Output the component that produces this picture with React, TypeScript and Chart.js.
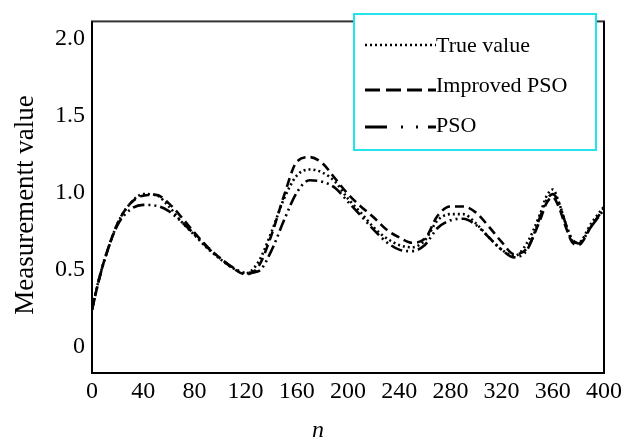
import React, { useEffect, useRef } from "react";
import { Chart, registerables } from "chart.js";

Chart.register(...registerables);

const nValues = [0, 5, 10, 20, 30, 40, 50, 60, 70, 80, 90, 100, 110, 120, 130, 140, 150, 160, 170, 180, 190, 200, 210, 220, 230, 240, 250, 260, 270, 280, 290, 300, 310, 320, 330, 340, 350, 355, 360, 365, 370, 375, 380, 390, 400];

const trueValue = [0.24, 0.425, 0.57, 0.8, 0.93, 0.99, 0.985, 0.91, 0.81, 0.725, 0.64, 0.57, 0.51, 0.475, 0.55, 0.74, 0.96, 1.11, 1.15, 1.13, 1.07, 0.96, 0.87, 0.775, 0.705, 0.66, 0.645, 0.69, 0.82, 0.86, 0.86, 0.8, 0.71, 0.63, 0.59, 0.675, 0.86, 0.975, 1.02, 0.93, 0.8, 0.69, 0.675, 0.8, 0.91];

const improvedPSO = [0.24, 0.42, 0.57, 0.8, 0.93, 0.98, 0.985, 0.93, 0.84, 0.74, 0.65, 0.575, 0.51, 0.47, 0.52, 0.72, 0.98, 1.2, 1.23, 1.19, 1.09, 0.99, 0.91, 0.84, 0.76, 0.71, 0.675, 0.7, 0.85, 0.91, 0.91, 0.87, 0.78, 0.68, 0.6, 0.64, 0.82, 0.93, 0.97, 0.9, 0.78, 0.68, 0.66, 0.78, 0.9];

const psoValues = [0.24, 0.42, 0.57, 0.79, 0.89, 0.92, 0.915, 0.88, 0.81, 0.73, 0.645, 0.575, 0.515, 0.48, 0.49, 0.62, 0.82, 1.0, 1.08, 1.07, 1.03, 0.94, 0.85, 0.76, 0.68, 0.63, 0.62, 0.66, 0.77, 0.82, 0.83, 0.79, 0.71, 0.63, 0.58, 0.63, 0.84, 0.95, 0.99, 0.93, 0.8, 0.7, 0.67, 0.78, 0.89];

const seriesLabels = ["True value", "Improved PSO", "PSO"];
const xTickValues = [0, 40, 80, 120, 160, 200, 240, 280, 320, 360, 400];
const xTickLabels = ["0", "40", "80", "120", "160", "200", "240", "280", "320", "360", "400"];
const yTickValues = [0, 0.5, 1.0, 1.5, 2.0];
const yTickLabels = ["0", "0.5", "1.0", "1.5", "2.0"];
const xTitle = "n";
const yTitle = "Measurementt value";

const SERIF = "'Liberation Serif', 'Times New Roman', serif";

const chartDashes = [[2, 3], [9, 5], [12, 4, 2, 4, 2, 4]];
const legendDashes = [[2, 3], [15, 6], [22, 14, 2, 13, 2, 10]];

export default function App() {
  const canvasRef = useRef<HTMLCanvasElement | null>(null);

  useEffect(() => {
    const canvas = canvasRef.current;
    if (!canvas) return;

    const toPoints = (vals: number[]) => nValues.map((n, i) => ({ x: n, y: vals[i] }));
    const seriesData = [trueValue, improvedPSO, psoValues];

    const framePlugin = {
      id: "frameAndTexts",
      afterDraw(chart: any) {
        const ctx = chart.ctx as CanvasRenderingContext2D;
        const a = chart.chartArea;
        ctx.save();
        ctx.strokeStyle = "#333";
        ctx.lineWidth = 2;
        ctx.setLineDash([]);
        ctx.strokeRect(a.left, a.top, a.right - a.left, a.bottom - a.top);
        ctx.strokeStyle = "#000";
        ctx.beginPath();
        ctx.moveTo(a.left, a.top);
        ctx.lineTo(a.left, a.bottom);
        ctx.lineTo(a.right, a.bottom);
        ctx.lineTo(a.right, a.top);
        ctx.stroke();

        const lx = 354, ly = 14, lw = 242, lh = 136;
        ctx.fillStyle = "#fff";
        ctx.fillRect(lx, ly, lw, lh);
        ctx.strokeStyle = "#22e4ea";
        ctx.lineWidth = 2;
        ctx.strokeRect(lx, ly, lw, lh);
        const rowsLine = [45, 90, 127];
        const rowsText = [46, 86, 126];
        ctx.font = `22px ${SERIF}`;
        ctx.textBaseline = "middle";
        ctx.textAlign = "left";
        chart.data.datasets.forEach((ds: any, i: number) => {
          ctx.strokeStyle = "#000";
          ctx.lineWidth = i === 0 ? 2.6 : 3;
          ctx.setLineDash(legendDashes[i]);
          ctx.beginPath();
          ctx.moveTo(365, rowsLine[i]);
          ctx.lineTo(436, rowsLine[i]);
          ctx.stroke();
          ctx.setLineDash([]);
          ctx.fillStyle = "#000";
          ctx.fillText(ds.label, 436, rowsText[i]);
        });

        ctx.fillStyle = "#000";
        ctx.save();
        ctx.translate(26, 205);
        ctx.rotate(-Math.PI / 2);
        ctx.font = `27px ${SERIF}`;
        ctx.textAlign = "center";
        ctx.textBaseline = "middle";
        ctx.fillText(yTitle, 0, 0);
        ctx.restore();
        ctx.font = `italic 24px ${SERIF}`;
        ctx.textAlign = "center";
        ctx.textBaseline = "middle";
        ctx.fillText(xTitle, 318, 431);
        ctx.restore();
      },
    };

    const chart = new Chart(canvas, {
      type: "line",
      data: {
        datasets: seriesLabels.map((label, i) => ({
          label,
          data: toPoints(seriesData[i]),
          borderColor: "#000",
          backgroundColor: "#000",
          borderWidth: 2.6,
          borderDash: chartDashes[i],
          pointRadius: 0,
          fill: false,
          cubicInterpolationMode: "monotone" as const,
        })),
      },
      options: {
        responsive: false,
        animation: false,
        devicePixelRatio: 1,
        layout: { padding: { left: 0, right: 22, top: 8, bottom: 0 } },
        plugins: {
          legend: { display: false },
          tooltip: { enabled: false },
        },
        scales: {
          x: {
            type: "linear",
            min: 0,
            max: 400,
            grid: { display: false, drawTicks: false },
            border: { display: false },
            afterBuildTicks: (scale: any) => {
              scale.ticks = xTickValues.map((v) => ({ value: v }));
            },
            afterFit: (scale: any) => {
              scale.height = 70;
            },
            ticks: {
              autoSkip: false,
              maxRotation: 0,
              padding: 4,
              color: "#000",
              font: { family: SERIF, size: 24 },
              callback: (value: any) => {
                const idx = xTickValues.indexOf(Number(value));
                return idx >= 0 ? xTickLabels[idx] : "";
              },
            },
          },
          y: {
            type: "linear",
            min: -0.17,
            max: 2.11,
            grid: { display: false, drawTicks: false },
            border: { display: false },
            afterBuildTicks: (scale: any) => {
              scale.ticks = yTickValues.map((v) => ({ value: v }));
            },
            afterFit: (scale: any) => {
              scale.width = 92;
            },
            ticks: {
              autoSkip: false,
              padding: 7,
              color: "#000",
              font: { family: SERIF, size: 24 },
              callback: (value: any) => {
                const idx = yTickValues.indexOf(Number(value));
                return idx >= 0 ? yTickLabels[idx] : "";
              },
            },
          },
        },
      },
      plugins: [framePlugin],
    });

    return () => {
      chart.destroy();
    };
  }, []);

  return (
    <div style={{ position: "fixed", left: 0, top: 0, width: 626, height: 443, background: "#fff" }}>
      <canvas ref={canvasRef} width={626} height={443} />
    </div>
  );
}
